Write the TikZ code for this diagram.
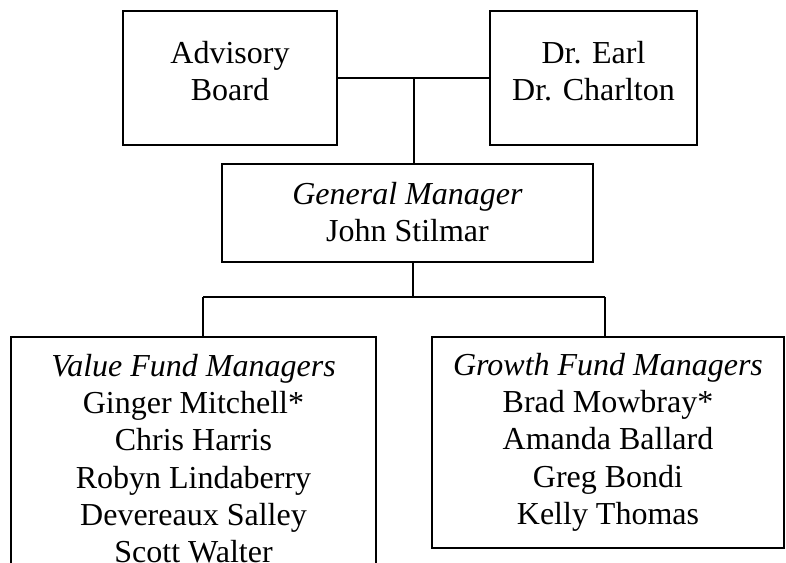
\documentclass[tikz,border=0pt]{standalone}
\usepackage{fontspec}
\setmainfont{Liberation Serif}
\begin{document}
\begin{tikzpicture}[x=1pt,y=1pt,
  box/.style={draw=black, line width=1.3pt, inner sep=0pt, rectangle},
  txt/.style={anchor=north, inner sep=0pt, align=center, font=\fontsize{32}{37.2}\selectfont},
  link/.style={draw=black, line width=1.3pt}]
\useasboundingbox (0,0) rectangle (786,562);
\clip (0,0) rectangle (786,562);
% boxes
\node[box, minimum width=214pt, minimum height=134pt] (adv) at (230,484) {};
\node[box, minimum width=207pt, minimum height=134pt] (drs) at (593.5,484) {};
\node[box, minimum width=371pt, minimum height=98pt] (gm) at (407.5,349) {};
\node[box, minimum width=365pt, minimum height=263pt] (val) at (193.5,93.5) {};
\node[box, minimum width=352pt, minimum height=211pt] (gro) at (608,119.5) {};
% texts
\node[txt] (advt) at (230,521) {Advisory\\Board};
\node[txt] (drst) at (593.5,521) {Dr. Earl\\Dr. Charlton};
\node[txt] (gmt) at (407.5,380) {\textit{General Manager}\\John Stilmar};
\node[txt] (valt) at (193.5,208) {\textit{Value Fund Managers}\\Ginger Mitchell*\\Chris Harris\\Robyn Lindaberry\\Devereaux Salley\\Scott Walter};
\node[txt] (grot) at (608,209) {\textit{Growth Fund Managers}\\Brad Mowbray*\\Amanda Ballard\\Greg Bondi\\Kelly Thomas};
% connectors
\coordinate (top) at (414,484);
\coordinate (bus) at (413,265);
\coordinate (bl) at (203,265);
\coordinate (br) at (605,265);
\draw[link] (adv.east) -- (drs.west);
\draw[link] (top) -- (top |- gm.north);
\draw[link] (bus |- gm.south) -- (bus);
\draw[link] (bl) -- (br);
\draw[link] (bl) -- (bl |- val.north);
\draw[link] (br) -- (br |- gro.north);
\end{tikzpicture}
\end{document}
